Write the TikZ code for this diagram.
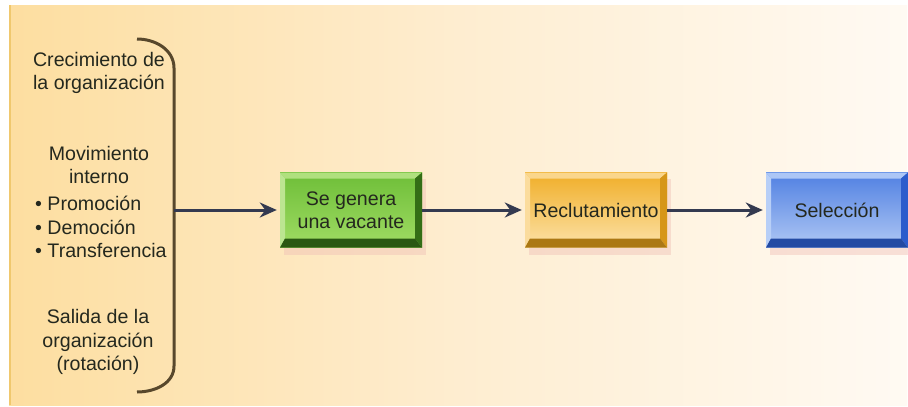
\documentclass[tikz,border=0pt]{standalone}
\usepackage{fontspec}
\setmainfont{Liberation Sans}
\usetikzlibrary{positioning,arrows.meta,backgrounds}

\definecolor{bgleft}{RGB}{253,222,160}
\definecolor{bgmid}{RGB}{254,237,208}
\definecolor{bgright}{RGB}{255,250,243}
\definecolor{bgedge}{RGB}{240,200,110}
\definecolor{ink}{RGB}{36,40,30}
\definecolor{bracecol}{RGB}{88,72,44}
\definecolor{flowcol}{RGB}{52,58,80}
\definecolor{shadowcol}{RGB}{240,192,182}
\definecolor{vactop}{RGB}{110,190,56}
\definecolor{vacbot}{RGB}{160,220,100}
\definecolor{vaclt}{RGB}{176,224,126}
\definecolor{vacdk}{RGB}{52,110,22}
\definecolor{rectop}{RGB}{240,174,40}
\definecolor{recbot}{RGB}{252,226,168}
\definecolor{reclt}{RGB}{250,214,140}
\definecolor{recdk}{RGB}{214,150,24}
\definecolor{seltop}{RGB}{80,128,226}
\definecolor{selbot}{RGB}{176,200,244}
\definecolor{sellt}{RGB}{172,198,246}
\definecolor{seldk}{RGB}{44,92,204}

\begin{document}
\begin{tikzpicture}
[x=1pt,y=-1pt,
 every node/.style={font=\fontsize{19.6}{23.5}\selectfont,text=ink,inner sep=0pt},
 txt/.style={align=center},
 stepbox/.style n args={4}{rectangle,minimum width=142pt,minimum height=75pt,align=center,
  top color=#1,bottom color=#2,
  path picture={
   \coordinate (nw) at (path picture bounding box.north west);
   \coordinate (ne) at (path picture bounding box.north east);
   \coordinate (sw) at (path picture bounding box.south west);
   \coordinate (se) at (path picture bounding box.south east);
   \fill[#3] (nw) -- (ne) -- ([shift={(-7pt,-6pt)}]ne) -- ([shift={(5pt,-6pt)}]nw) -- cycle;
   \fill[#3!85!white] (nw) -- ([shift={(5pt,-6pt)}]nw) -- ([shift={(5pt,9pt)}]sw) -- (sw) -- cycle;
   \fill[#4] (ne) -- (se) -- ([shift={(-7pt,9pt)}]se) -- ([shift={(-7pt,-6pt)}]ne) -- cycle;
   \fill[#4!80!black] (sw) -- (se) -- ([shift={(-7pt,9pt)}]se) -- ([shift={(5pt,9pt)}]sw) -- cycle;
  }},
 flow/.style={color=flowcol,line width=3pt,-{Stealth[length=17pt,width=15pt]},shorten >=3pt},
 brace/.style={draw=bracecol,line width=3pt}]
\useasboundingbox (0,0) rectangle (908,407);
% causes
\node[txt] (grow)  at (99,73)  {Crecimiento de\\la organización};
\node[txt] (intern) at (99,165) {Movimiento\\interno};
\node[align=left,anchor=west] (kinds) at (35,227) {• Promoción\\• Democión\\• Transferencia};
\node[txt] (leave) at (98,342) {Salida de la\\organización\\(rotación)};
\draw[brace] (137,39) to[out=0,in=90] (174,68) -- (174,366) to[out=-90,in=0] (137,392);
\coordinate (brc) at (174,210);
% steps
\node[stepbox={vactop}{vacbot}{vaclt}{vacdk}] (vac) at (351,210) {Se genera\\una vacante};
\node[stepbox={rectop}{recbot}{reclt}{recdk}] (rec) [on grid,right=245pt of vac] {Reclutamiento};
\node[stepbox={seltop}{selbot}{sellt}{seldk}] (sel) [on grid,right=241pt of rec] {Selección};
\path[flow] (brc) edge (vac)
            (vac) edge (rec)
            (rec) edge (sel);
% backdrop
\begin{scope}[on background layer]
\shade[left color=bgleft,right color=bgright,middle color=bgmid] (9,5) rectangle (907,405);
\draw[bgedge,line width=2pt] (10,5) -- (10,405);
\foreach \n in {vac,rec,sel}
  \fill[shadowcol,opacity=0.45] ([shift={(4pt,-7pt)}]\n.north west) rectangle ([shift={(4pt,-7pt)}]\n.south east);
\end{scope}
\end{tikzpicture}
\end{document}
